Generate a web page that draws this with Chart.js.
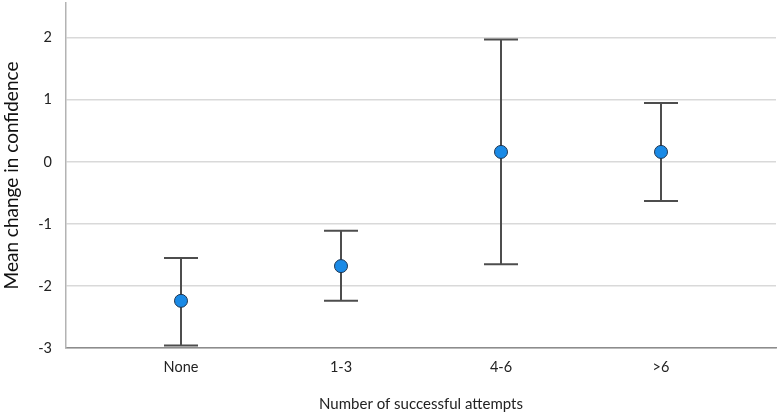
<!DOCTYPE html>
<html>
<head>
<meta charset="utf-8">
<script src="https://cdn.jsdelivr.net/npm/chart.js@4.4.0/dist/chart.umd.min.js"></script>
<style>
  html, body { margin: 0; padding: 0; background: #fff; }
  #wrap { width: 778px; height: 414px; }
</style>
</head>
<body>
<div id="wrap"><canvas id="chart"></canvas></div>
<script>
// data
const attempts = ['None', '1-3', '4-6', '>6'];
const meanChange = [-2.24, -1.68, 0.16, 0.16];
const upperCI = [-1.55, -1.11, 1.97, 0.95];
const lowerCI = [-2.96, -2.24, -1.65, -0.63];

const yTicks = [-3, -2, -1, 0, 1, 2];

// error bars, drawn under the dots
const errorBars = {
    id: 'errorBars',
    beforeDatasetsDraw(chart) {
        const ctx = chart.ctx
        const xs = chart.scales.x
        const ys = chart.scales.y
        ctx.save()
        ctx.strokeStyle = '#4d4d4d'
        ctx.lineWidth = 2
        attempts.forEach((a, i) => {
            let x = xs.getPixelForValue(i)
            let top = ys.getPixelForValue(upperCI[i])
            let bot = ys.getPixelForValue(lowerCI[i])
            ctx.beginPath()
            ctx.moveTo(x, top)
            ctx.lineTo(x, bot)
            ctx.moveTo(x - 17, top)
            ctx.lineTo(x + 17, top)
            ctx.moveTo(x - 17, bot)
            ctx.lineTo(x + 17, bot)
            ctx.stroke()
        })
        ctx.restore()
    }
}

let ctxChart = document.getElementById('chart')

new Chart(ctxChart, {
    type: 'scatter',
    data: {
        datasets: [{
            label: 'Mean change in confidence',
            data: meanChange.map((v, i) => ({x: i, y: v})),
            pointRadius: 6.5,
            pointHoverRadius: 6.5,
            pointBackgroundColor: '#1a8ae6',
            pointBorderColor: '#1f3550',
            pointBorderWidth: 1
        }]
    },
    options: {
        responsive: true,
        maintainAspectRatio: false,
        animation: false,
        layout: { autoPadding: false, padding: { top: 3, right: 2, left: 0, bottom: 0 } },
        plugins: {
            legend: { display: false },
            tooltip: { enabled: false }
        },
        scales: {
            x: {
                type: 'linear',
                min: -0.71875,
                max: 3.71875,
                afterBuildTicks: scale => {
                    scale.ticks = attempts.map((a, i) => ({value: i}))
                },
                afterFit: scale => {
                    scale.height = 66
                    scale.paddingLeft = 0
                    scale.paddingRight = 0
                },
                ticks: {
                    callback: v => attempts[v],
                    color: '#222',
                    font: { family: 'Lato', size: 14.5 },
                    padding: 11,
                    maxRotation: 0
                },
                grid: { display: false, drawTicks: false },
                border: { display: true, color: '#8c8c8c', width: 1.5 },
                title: {
                    display: true,
                    text: 'Number of successful attempts',
                    color: '#222',
                    font: { family: 'Lato', size: 15 },
                    padding: { top: 0, bottom: 1 }
                }
            },
            y: {
                min: -3,
                max: 2.56,
                afterBuildTicks: scale => {
                    scale.ticks = yTicks.map(v => ({value: v}))
                },
                afterFit: scale => {
                    scale.width = 66
                    scale.paddingTop = 0
                    scale.paddingBottom = 0
                },
                ticks: {
                    color: '#222',
                    font: { family: 'Lato', size: 14.5 },
                    padding: 14
                },
                grid: { color: '#d9d9d9', lineWidth: 1.5, drawTicks: false },
                border: { display: true, color: '#b3b3b3', width: 1.5 },
                title: {
                    display: true,
                    text: 'Mean change in confidence',
                    color: '#111',
                    font: { family: 'Lato', size: 19 },
                    padding: { top: 0, bottom: 0 }
                }
            }
        }
    },
    plugins: [errorBars]
})
</script>
</body>
</html>
